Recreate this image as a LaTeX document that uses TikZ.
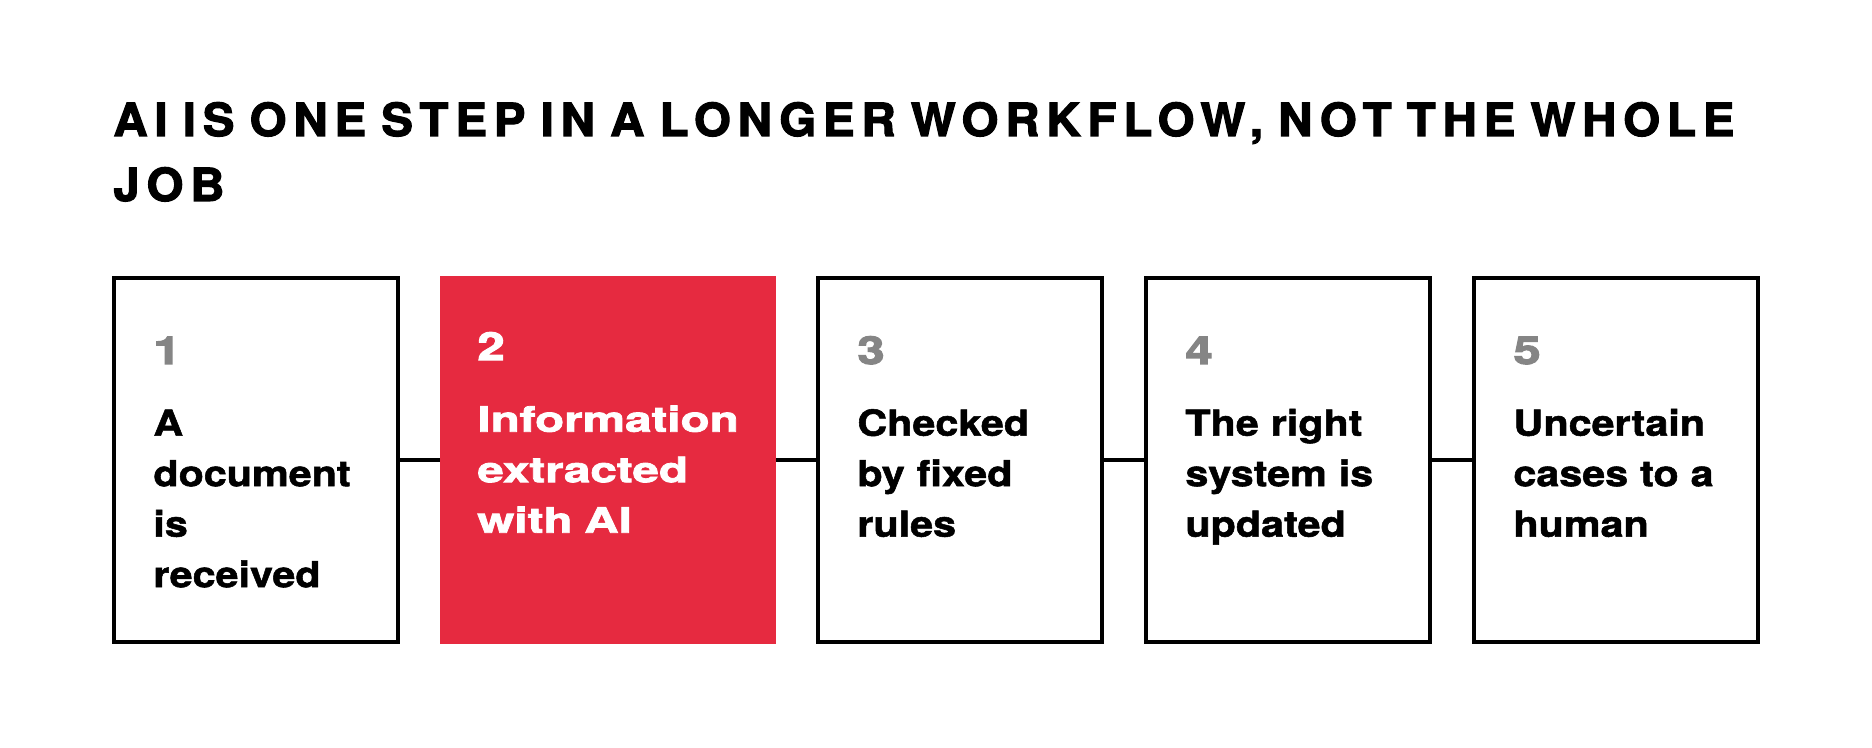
\documentclass[tikz,border=0pt]{standalone}
\usepackage{fontspec}
\setmainfont{TeX Gyre Heros}
\newfontfamily\titlefont{texgyreheros-bold.otf}[LetterSpace=15, FakeStretch=1.04, FakeBold=2.4]
\newfontfamily\bodyfont{texgyreheros-bold.otf}[FakeStretch=1.15, FakeBold=1.5]
\newfontfamily\widefont{texgyreheros-bold.otf}[FakeStretch=1.36, FakeBold=2.2]
\newfontfamily\numfont{texgyreheros-bold.otf}[FakeStretch=1.28, FakeBold=2.8]
\definecolor{accent}{HTML}{E62A40}
\definecolor{numgrey}{HTML}{858585}
\tikzset{
  stepbox/.style={draw=black, line width=1.9pt, fill=white, minimum width=142.1pt, minimum height=182.1pt, inner sep=0pt},
  redbox/.style={draw=none, fill=accent, minimum width=168pt, minimum height=184pt, inner sep=0pt},
  link/.style={draw=black, line width=1.6pt},
  numtxt/.style={anchor=base west, inner sep=0pt, font=\numfont\fontsize{19.2}{24}\selectfont, text=numgrey},
  bodytxt/.style={anchor=base west, inner sep=0pt, text width=130pt, align=left, font=\bodyfont\fontsize{17.95}{25.25}\selectfont, text=black},
  redtxt/.style={anchor=base west, inner sep=0pt, text width=160pt, align=left, font=\widefont\fontsize{17.5}{25.25}\selectfont, text=white},
  titletxt/.style={anchor=base west, inner sep=0pt, text width=900pt, align=left, font=\titlefont\fontsize{22.8}{32.5}\selectfont, text=black}
}
\begin{document}
\begin{tikzpicture}[x=0.5pt,y=-0.5pt]
\useasboundingbox[fill=white] (0,0) rectangle (1872,748);
\node[titletxt] (title) at (113,136) {AI IS ONE STEP IN A LONGER WORKFLOW, NOT THE WHOLE\\JOB};
\node[stepbox] (b1) at (256,460) {};
\node[redbox] (b2) at (608,460) {};
\node[stepbox] (b3) at (960,460) {};
\node[stepbox] (b4) at (1288,460) {};
\node[stepbox] (b5) at (1616,460) {};
\draw[link] (b1.east) -- (b2.west);
\draw[link] (b2.east) -- (b3.west);
\draw[link] (b3.east) -- (b4.west);
\draw[link] (b4.east) -- (b5.west);
\node[numtxt] (n1) at (153,364) {1};
\node[bodytxt] (t1) at (153,435.7) {A\\document\\is\\received};
\node[numtxt, text=white] (n2) at (477,360) {2};
\node[redtxt] (t2) at (477,431.7) {Information\\extracted\\with AI};
\node[numtxt] (n3) at (857,364) {3};
\node[bodytxt] (t3) at (857,435.7) {Checked\\by fixed\\rules};
\node[numtxt] (n4) at (1185,364) {4};
\node[bodytxt] (t4) at (1185,435.7) {The right\\system is\\updated};
\node[numtxt] (n5) at (1513,364) {5};
\node[bodytxt] (t5) at (1513,435.7) {Uncertain\\cases to a\\human};
\end{tikzpicture}
\end{document}
